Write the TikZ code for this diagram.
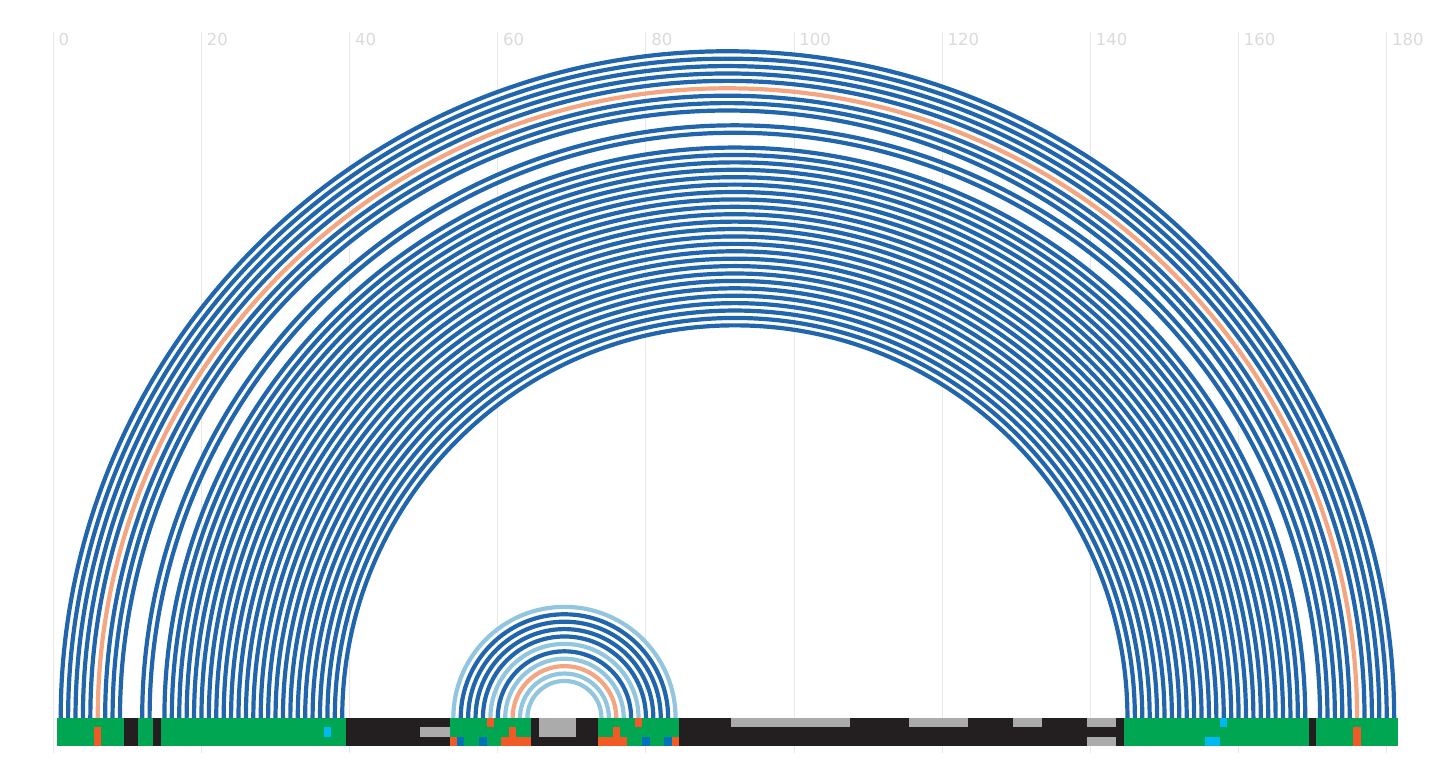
\documentclass[tikz,border=0pt]{standalone}
\usepackage{fontspec}
\setmainfont{DejaVu Sans}
\usepackage{xcolor}
\usepackage{tikz}
\usetikzlibrary{positioning,calc}

\definecolor{arcblue}{HTML}{2166AC}
\definecolor{arcsalmon}{HTML}{F4A582}
\definecolor{arclight}{HTML}{92C5DE}
\definecolor{segGreen}{HTML}{00A651}
\definecolor{segBlack}{HTML}{231F20}
\definecolor{segGray}{HTML}{ABABAB}
\definecolor{segOrange}{HTML}{F15A24}
\definecolor{segBlue}{HTML}{0072BC}
\definecolor{segCyan}{HTML}{00B9F2}
\definecolor{gridGray}{HTML}{E8E8E8}
\definecolor{lblGray}{HTML}{DADADA}

\begin{document}
\begin{tikzpicture}[
					x=7.408pt,y=7.408pt,
					line cap=butt,line join=round,
					font=\fontsize{16.5}{18}\selectfont,
					pair/.style={line width=4.2pt},
					gridline/.style={gridGray, line width=1.1pt},
					axlbl/.style={anchor=west, inner sep=0pt, text=lblGray}
					]
					%----- parameters
					\def\sA{0}
					\def\sB{-1.26}
					\def\sC{-2.52}
					\def\sD{-3.78}
					\def\gTop{92.64}
					\def\gBot{-4.72}
					
					\useasboundingbox (-7.195,-8.639) rectangle (188.27,96.92);
					
					%----- grid and position labels
					\foreach \x in {0,20,...,180}{
						\draw[gridline] (\x,\gBot) -- (\x,\gTop);
						\node[axlbl] (lbl\x) at (\x+0.7,91.62) {\x};
					}
					
					%----- outer arcs (i pairs with 182-i)
					\foreach \i in {1,...,5,7,8,9}{
						\draw[pair, arcblue] (\i,0) arc[start angle=180, end angle=0, radius={91-\i}];
					}
					\draw[pair, arcsalmon] (6,0) arc[start angle=180, end angle=0, radius=85];
					
					%----- inner arcs (i pairs with 184-i)
					\foreach \i in {12,13,15,16,...,39}{
						\draw[pair, arcblue] (\i,0) arc[start angle=180, end angle=0, radius={92-\i}];
					}
					
					%----- small arcs (i pairs with 138-i)
					\foreach \i/\c in {54/arclight,55/arcblue,56/arcblue,57/arcblue,58/arcblue,
						59/arclight,60/arcblue,61/arclight,62/arcsalmon,63/arclight,64/arclight}{
						\draw[pair, \c] (\i,0) arc[start angle=180, end angle=0, radius={69-\i}];
					}
					
					%----- sequence bar
					\fill[segBlack] (0.5,\sA) rectangle (181.5,\sD);
					\foreach \a/\b in {1/9,12/13,15/39,54/64,74/84,145/169,171/181}{
						\fill[segGreen] (\a-0.5,\sA) rectangle (\b+0.5,\sD);
					}
					
					% marks: from/to/colour/top/bottom
					\foreach \a/\b/\c/\yt/\yb in {
						6/6/segOrange/\sB/\sD,
						176/176/segOrange/\sB/\sD,
						37/37/segCyan/\sB/\sC,
						50/53/segGray/\sB/\sC,
						59/59/segOrange/\sA/\sB,
						62/62/segOrange/\sB/\sC,
						54/54/segOrange/\sC/\sD,
						55/55/segBlue/\sC/\sD,
						58/58/segBlue/\sC/\sD,
						61/64/segOrange/\sC/\sD,
						66/70/segGray/\sA/\sC,
						79/79/segOrange/\sA/\sB,
						76/76/segOrange/\sB/\sC,
						74/77/segOrange/\sC/\sD,
						80/80/segBlue/\sC/\sD,
						83/83/segBlue/\sC/\sD,
						84/84/segOrange/\sC/\sD,
						92/107/segGray/\sA/\sB,
						116/123/segGray/\sA/\sB,
						130/133/segGray/\sA/\sB,
						140/143/segGray/\sA/\sB,
						140/143/segGray/\sC/\sD,
						158/158/segCyan/\sA/\sB,
						156/157/segCyan/\sC/\sD}{
						\fill[\c] (\a-0.5,\yt) rectangle (\b+0.5,\yb);
					}
					
				\end{tikzpicture}
\end{document}
